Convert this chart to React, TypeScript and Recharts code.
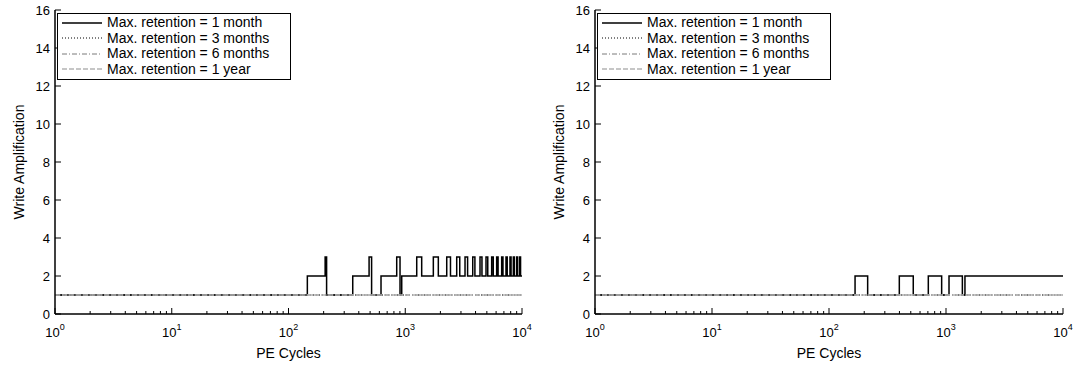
import React from "react";
import { LineChart, Line, XAxis, YAxis, Legend } from "recharts";

const FONT = '"Liberation Sans", Arial, Helvetica, sans-serif';

const majorXTicks = [1, 10, 100, 1000, 10000];
const minorXTicks = [
  2, 3, 4, 5, 6, 7, 8, 9,
  20, 30, 40, 50, 60, 70, 80, 90,
  200, 300, 400, 500, 600, 700, 800, 900,
  2000, 3000, 4000, 5000, 6000, 7000, 8000, 9000,
];
const allXTicks = [...majorXTicks, ...minorXTicks].sort((a, b) => a - b);
const yTicks = [0, 2, 4, 6, 8, 10, 12, 14, 16];

// left panel, 1-month curve: PE cycle where the level changes, and the new level
const leftMonthX = [
  1, 145, 206, 212, 355, 490, 515, 620, 845, 902, 933,
  1254, 1383, 1740, 1920, 2266, 2440, 2759, 2930, 3251, 3420, 3784, 3950,
  4369, 4540, 4918, 5090, 5498, 5670, 6067, 6240, 6698, 6870, 7294, 7470,
  7889, 8060, 8431, 8600, 9000, 9170, 9550, 9720, 10000,
];
const leftMonthY = [
  1, 2, 3, 1, 2, 3, 1, 2, 3, 1, 2,
  3, 2, 3, 2, 3, 2, 3, 2, 3, 2, 3, 2,
  3, 2, 3, 2, 3, 2, 3, 2, 3, 2, 3, 2,
  3, 2, 3, 2, 3, 2, 3, 2, 2,
];

// right panel, 1-month curve
const rightMonthX = [1, 167, 214, 399, 525, 706, 918, 1061, 1380, 1452, 10000];
const rightMonthY = [1, 2, 1, 2, 1, 2, 1, 2, 1, 2, 2];

// 3 months, 6 months and 1 year stay at 1 over the whole range
const flatX = [1, 10000];
const flatY = [1, 1];

const seriesStyle = [
  { name: "Max. retention = 1 month", stroke: "#000000", dash: undefined as string | undefined, width: 1.5 },
  { name: "Max. retention = 3 months", stroke: "#000000", dash: "1 2", width: 1 },
  { name: "Max. retention = 6 months", stroke: "#7a7a7a", dash: "5 2 1 2", width: 1 },
  { name: "Max. retention = 1 year", stroke: "#b4b4b4", dash: "5 2", width: 1.5 },
];

const toPoints = (xs: number[], ys: number[]) => xs.map((x, i) => ({ x, y: ys[i] }));

function BottomTick(props: any) {
  const { x, y, payload } = props;
  const v = payload.value;
  const major = majorXTicks.includes(v);
  const exp = Math.round(Math.log10(v));
  return (
    <g>
      <line x1={x} x2={x} y1={y} y2={y - (major ? 6 : 3)} stroke="#000" strokeWidth={1} />
      {major && (
        <text x={x} y={y + 23} textAnchor="middle" fontSize={13} fontFamily={FONT} fill="#000">
          10
          <tspan dy={-7} fontSize={9}>
            {exp}
          </tspan>
        </text>
      )}
    </g>
  );
}

function TopTick(props: any) {
  const { x, y, payload } = props;
  const major = majorXTicks.includes(payload.value);
  return <line x1={x} x2={x} y1={y} y2={y + (major ? 6 : 3)} stroke="#000" strokeWidth={1} />;
}

function LeftTick(props: any) {
  const { x, y, payload } = props;
  return (
    <g>
      <line x1={x} x2={x + 6} y1={y} y2={y} stroke="#000" strokeWidth={1} />
      <text x={x - 5} y={y} dy="0.35em" textAnchor="end" fontSize={13} fontFamily={FONT} fill="#000">
        {payload.value}
      </text>
    </g>
  );
}

function RightTick(props: any) {
  const { x, y } = props;
  return <line x1={x} x2={x - 6} y1={y} y2={y} stroke="#000" strokeWidth={1} />;
}

function LegendBox() {
  return (
    <div
      style={{
        width: 234,
        boxSizing: "border-box",
        border: "1px solid #000",
        background: "#fff",
        padding: "1px 4px 2px 4px",
        fontFamily: FONT,
        fontSize: 14,
        lineHeight: "15.5px",
        color: "#000",
        whiteSpace: "nowrap",
      }}
    >
      {seriesStyle.map((s) => (
        <div key={s.name} style={{ display: "flex", alignItems: "center", height: 15.5 }}>
          <svg width={40} height={10} style={{ marginRight: 5 }}>
            <line x1={0} x2={40} y1={5} y2={5} stroke={s.stroke} strokeWidth={s.width} strokeDasharray={s.dash} />
          </svg>
          <span>{s.name}</span>
        </div>
      ))}
    </div>
  );
}

const axisLine = { stroke: "#000", strokeWidth: 1.5 };

function Panel({ monthX, monthY, width, right }: { monthX: number[]; monthY: number[]; width: number; right: number }) {
  const month = toPoints(monthX, monthY);
  const flat = toPoints(flatX, flatY);
  return (
    <LineChart width={width} height={369} margin={{ top: 10, right, bottom: 25, left: 25 }}>
      <XAxis
        xAxisId="b"
        dataKey="x"
        type="number"
        scale="log"
        domain={[1, 10000]}
        allowDataOverflow
        ticks={allXTicks}
        interval={0}
        tickSize={0}
        tickMargin={0}
        tickLine={false}
        axisLine={axisLine}
        tick={(p: any) => <BottomTick {...p} />}
        height={30}
        label={{
          content: (p: any) => {
            const vb = p.viewBox;
            return (
              <text x={vb.x + vb.width / 2} y={vb.y + vb.height + 14} textAnchor="middle" fontSize={14} fontFamily={FONT} fill="#000">
                PE Cycles
              </text>
            );
          },
        }}
      />
      <XAxis
        xAxisId="t"
        orientation="top"
        dataKey="x"
        type="number"
        scale="log"
        domain={[1, 10000]}
        allowDataOverflow
        ticks={allXTicks}
        interval={0}
        tickSize={0}
        tickMargin={0}
        tickLine={false}
        axisLine={axisLine}
        tick={(p: any) => <TopTick {...p} />}
        height={0}
      />
      <YAxis
        yAxisId="l"
        type="number"
        domain={[0, 16]}
        ticks={yTicks}
        interval={0}
        tickSize={0}
        tickMargin={0}
        tickLine={false}
        axisLine={axisLine}
        tick={(p: any) => <LeftTick {...p} />}
        width={30}
        label={{
          content: (p: any) => {
            const vb = p.viewBox;
            const cx = vb.x - 1;
            const cy = vb.y + vb.height / 2;
            return (
              <text x={cx} y={cy} transform={`rotate(-90 ${cx} ${cy})`} textAnchor="middle" fontSize={14} fontFamily={FONT} fill="#000">
                Write Amplification
              </text>
            );
          },
        }}
      />
      <YAxis
        yAxisId="r"
        orientation="right"
        type="number"
        domain={[0, 16]}
        ticks={yTicks}
        interval={0}
        tickSize={0}
        tickMargin={0}
        tickLine={false}
        axisLine={axisLine}
        tick={(p: any) => <RightTick {...p} />}
        width={0}
      />
      <Legend
        layout="vertical"
        align="center"
        verticalAlign="middle"
        content={() => <LegendBox />}
        wrapperStyle={{ left: 57, top: 13, width: "auto" }}
      />
      <Line
        xAxisId="b"
        yAxisId="l"
        data={month}
        dataKey="y"
        type="stepAfter"
        stroke={seriesStyle[0].stroke}
        strokeWidth={seriesStyle[0].width}
        dot={false}
        isAnimationActive={false}
      />
      {seriesStyle.slice(1).map((s) => (
        <Line
          key={s.name}
          xAxisId="b"
          yAxisId="l"
          data={flat}
          dataKey="y"
          type="linear"
          stroke={s.stroke}
          strokeWidth={s.width}
          strokeDasharray={s.dash}
          dot={false}
          isAnimationActive={false}
        />
      ))}
    </LineChart>
  );
}

export default function App() {
  return (
    <div style={{ position: "absolute", left: 0, top: 0, width: 1077, height: 369, background: "#fff" }}>
      <div style={{ position: "absolute", left: 0, top: 0 }}>
        <Panel monthX={leftMonthX} monthY={leftMonthY} width={540} right={18} />
      </div>
      <div style={{ position: "absolute", left: 540, top: 0 }}>
        <Panel monthX={rightMonthX} monthY={rightMonthY} width={537} right={14} />
      </div>
    </div>
  );
}
